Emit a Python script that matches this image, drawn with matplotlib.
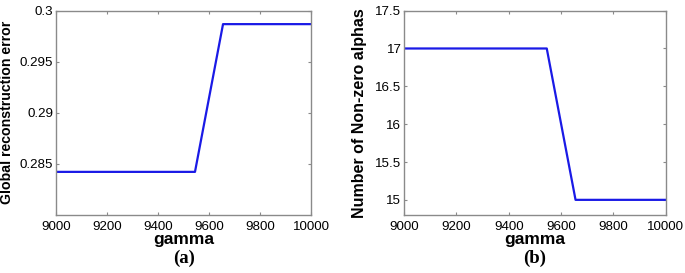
import matplotlib.pyplot as plt

# gamma values where the curve changes
gamma = [9000, 9545, 9655, 10000]
recon_error = [0.28422, 0.28422, 0.29868, 0.29868]
nonzero_alphas = [17, 17, 15, 15]

fig = plt.figure(figsize=(6.85, 2.73), dpi=100)
plt.rcParams['font.family'] = ['Liberation Sans', 'DejaVu Sans']

ax1 = fig.add_axes([0.0818, 0.2125, 0.3722, 0.7485])
ax2 = fig.add_axes([0.590, 0.2125, 0.382, 0.7485])

line_color = '#1a1ae6'
edge = '#8a8a8a'

for ax in (ax1, ax2):
    ax.set_xlim(9000, 10000)
    ax.set_xticks([9000, 9200, 9400, 9600, 9800, 10000])
    ax.tick_params(direction='in', length=2.5, width=0.8, labelsize=9.6,
                   colors=edge, labelcolor='black', top=True, right=True)
    ax.tick_params(axis='y', pad=2)
    ax.tick_params(axis='x', pad=4)
    for s in ax.spines.values():
        s.set_color(edge)
        s.set_linewidth(1.0)
    ax.set_xlabel('gamma', fontsize=12.5, fontweight='bold')
    ax.xaxis.set_label_coords(0.5, -0.085)

ax1.plot(gamma, recon_error, color=line_color, lw=1.6)
ax1.set_ylim(0.28, 0.3)
ax1.set_yticks([0.285, 0.29, 0.295, 0.3])
ax1.set_yticklabels(['0.285', '0.29', '0.295', '0.3'])
ax1.set_ylabel('Global reconstruction error', fontsize=10.2, fontweight='bold')
ax1.yaxis.set_label_coords(-0.165, 0.5)

ax2.plot(gamma, nonzero_alphas, color=line_color, lw=1.6)
ax2.set_ylim(14.8, 17.5)
ax2.set_yticks([15, 15.5, 16, 16.5, 17, 17.5])
ax2.set_yticklabels(['15', '15.5', '16', '16.5', '17', '17.5'])
ax2.set_ylabel('Number of Non-zero alphas', fontsize=11.5, fontweight='bold')
ax2.yaxis.set_label_coords(-0.141, 0.5)

fig.text(0.268, 0.055, '(a)', fontsize=13.5, fontweight='bold',
         family=['Liberation Serif', 'DejaVu Serif'], ha='center', va='center')
fig.text(0.781, 0.055, '(b)', fontsize=13.5, fontweight='bold',
         family=['Liberation Serif', 'DejaVu Serif'], ha='center', va='center')

fig.savefig('out.png', dpi=100)
